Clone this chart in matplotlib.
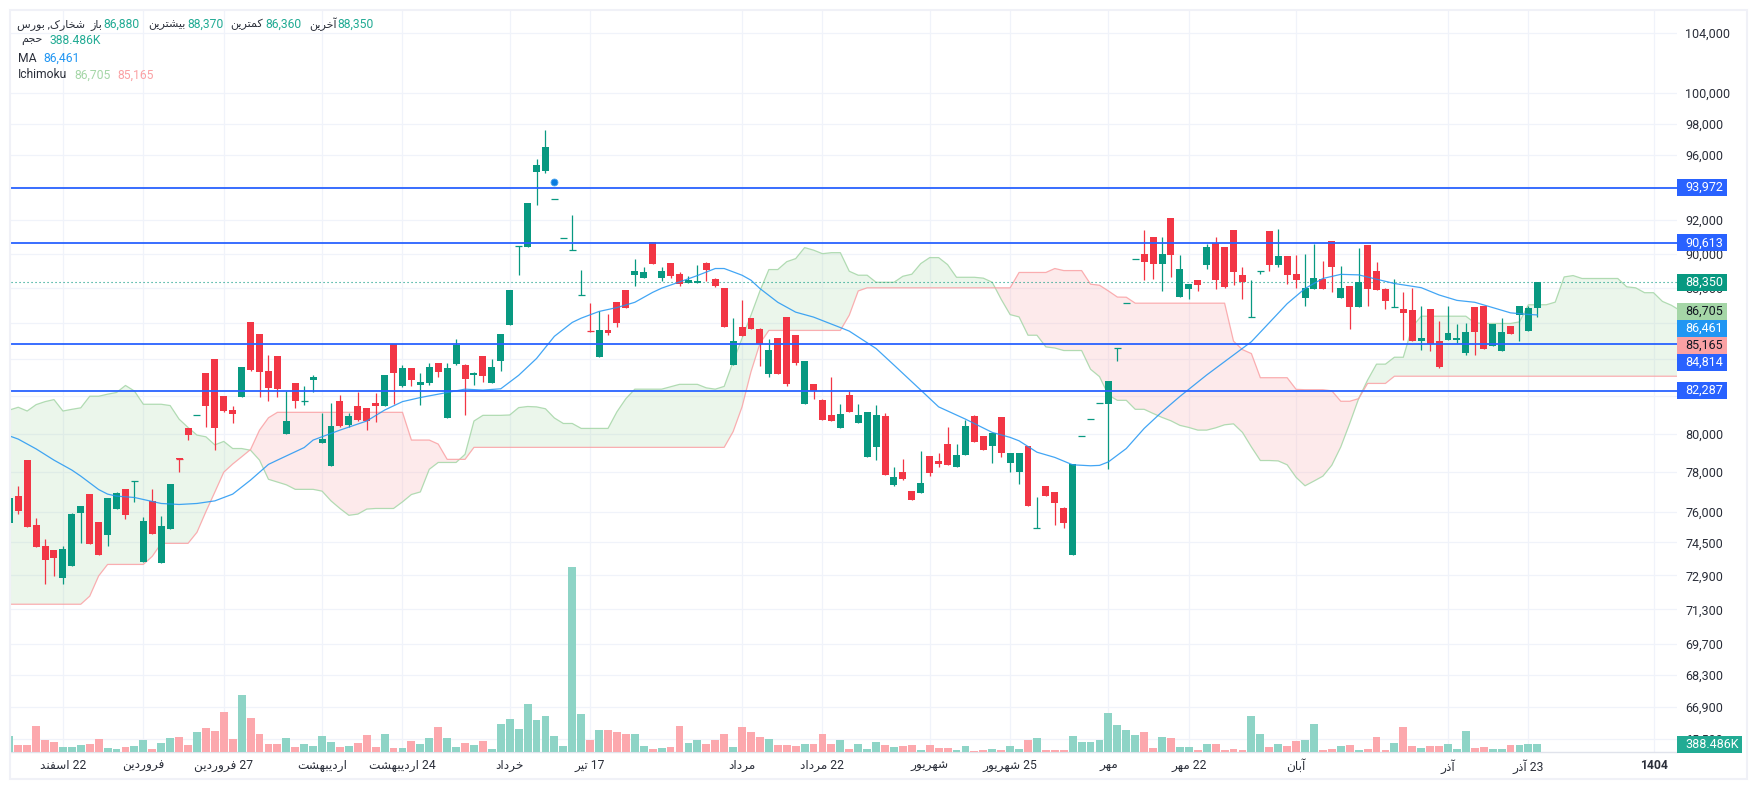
"""
Daily candle chart for a Tehran exchange ticker with Ichimoku cloud, MA and volume.
Run:  python plot.py   (writes out.png, 1757x790)
"""
import numpy as np
import matplotlib
matplotlib.use('Agg')
import matplotlib.pyplot as plt
from matplotlib.patches import Rectangle
from matplotlib.ticker import NullLocator

# ── data ─────────────────────────────────────────────────────────────────────
opens = [
    75450, 76790, 78620, 75350, 74310, 74120, 72780, 73350, 75940, 76880, 75500, 74860, 76140, 77140, 77530,
    73540, 76530, 73500, 75150, 78710, 80290, 80960, 83240, 83990, 81980, 81240, 81920, 86060, 85380, 83350,
    84160, 79970, 82690, 81730, 82850, 79500, 78310, 81710, 80450, 81450, 81340, 81600, 81450, 84820, 82530,
    83510, 82580, 82690, 83780, 80820, 83720, 83670, 83120, 84160, 82690, 83890, 85880, 90430, 90370, 94920,
    94990, 93300, 90950, 90240, 87620, 85570, 84100, 85600, 87180, 87870, 88740, 88570, 90670, 88570, 89440,
    88800, 88280, 88280, 89440, 88510, 87990, 83670, 85770, 86280, 85660, 83180, 85150, 86340, 85320, 81550,
    82630, 81760, 80980, 80290, 82040, 80550, 78770, 79290, 80920, 77340, 78010, 77040, 76940, 78820, 78570,
    79450, 78260, 78870, 80920, 79870, 79340, 80870, 78470, 78010, 79340, 75200, 77290, 76990, 76190, 73880,
    79850, 80750, 81640, 81550, 84630, 87160, 89710, 89960, 90970, 89380, 92110, 87470, 87930, 88450, 89320,
    90610, 90370, 91390, 88740, 86370, 88970, 91330, 89320, 89840, 88800, 87410, 87930, 88510, 90730, 87410,
    88100, 86900, 90490, 88970, 87930, 86940, 86790, 86730, 84990, 86790, 84990, 85040, 85040, 84320, 86900,
    86950, 84710, 84430, 85830, 86450, 85540, 86880]
highs = [
    76680, 77290, 78620, 75700, 74660, 74120, 74310, 75940, 76290, 76880, 75500, 76680, 76990, 77140, 77530,
    75750, 77140, 75800, 77390, 78710, 80290, 80960, 83240, 83990, 81980, 81450, 83560, 86060, 85380, 84210,
    84160, 82250, 82690, 82530, 83120, 81080, 81600, 82040, 81080, 82200, 81340, 82150, 83120, 84820, 83670,
    83510, 83240, 83780, 83780, 83780, 85100, 83720, 83290, 84160, 83990, 85380, 87870, 90430, 93010, 95730,
    97570, 93300, 90950, 92290, 89030, 87120, 86670, 86500, 87180, 87870, 89670, 89200, 90670, 89200, 89440,
    88910, 88680, 89320, 89490, 88570, 87990, 86280, 87290, 86280, 85710, 85100, 85150, 86340, 85320, 83890,
    82630, 81820, 83010, 81550, 82260, 81550, 81130, 81500, 81080, 78260, 78670, 77040, 79080, 78820, 78970,
    80340, 79450, 80710, 80980, 79870, 80020, 80870, 78970, 78970, 79340, 76730, 77290, 76990, 76240, 78420,
    79850, 80750, 81640, 82800, 84630, 87160, 89710, 91390, 90970, 90970, 92110, 89900, 88220, 88450, 90550,
    90970, 90370, 91390, 89200, 88450, 88970, 91330, 91450, 89840, 89900, 89960, 90550, 89550, 90730, 89260,
    88100, 90310, 90490, 89490, 87990, 88510, 87750, 87990, 86950, 86790, 86110, 86950, 85940, 86000, 86900,
    86950, 85940, 86280, 85830, 86950, 86950, 88370]
lows = [
    75450, 75890, 75250, 74260, 72490, 72870, 72490, 73350, 74460, 74410, 73880, 74310, 76140, 75650, 76480,
    73540, 74910, 73500, 75150, 78010, 79660, 80960, 80340, 79130, 81130, 80550, 81920, 83350, 81920, 81710,
    81920, 79970, 81340, 81500, 82200, 79500, 78310, 80340, 80340, 80660, 80180, 80600, 81450, 81550, 82470,
    82530, 81500, 82580, 83010, 80820, 83670, 80980, 82580, 82740, 82690, 83350, 85880, 88740, 90370, 92890,
    94860, 93300, 90950, 90240, 87620, 85500, 84100, 85320, 85770, 86840, 88100, 88570, 89380, 88390, 88570,
    88100, 88280, 88280, 88390, 88040, 85770, 83670, 85260, 85660, 83620, 83010, 83180, 82530, 83670, 81550,
    81820, 80710, 80660, 80290, 81130, 80550, 78770, 78620, 77850, 77290, 77600, 76580, 76940, 77800, 78260,
    78360, 78260, 78870, 79550, 79130, 78470, 78770, 78010, 77400, 76290, 75200, 76780, 75350, 75200, 73880,
    79850, 80750, 81640, 78160, 83890, 87160, 89710, 88450, 88510, 87810, 88620, 87470, 87350, 87810, 89090,
    87930, 87990, 88160, 87350, 86370, 88800, 88970, 89200, 88220, 87990, 86950, 87930, 87930, 87750, 87410,
    85660, 86900, 86950, 87870, 86790, 86940, 85040, 84990, 84480, 84430, 83510, 85040, 84870, 84210, 84210,
    84540, 84710, 84430, 85380, 84990, 85540, 86360]
closes = [
    76680, 76040, 75250, 74260, 73640, 73730, 74170, 75890, 76290, 74410, 73880, 76680, 76940, 75850, 77530,
    75550, 74910, 75300, 77390, 78690, 79920, 80960, 81450, 80290, 81190, 81030, 83560, 83400, 83290, 82420,
    82360, 80660, 81710, 81730, 83010, 79710, 80390, 80390, 80920, 80710, 80660, 81450, 83120, 83240, 83510,
    82850, 82740, 83560, 83290, 83510, 84760, 82900, 83240, 83070, 83560, 85380, 87870, 90430, 93010, 95360,
    96490, 93300, 90950, 90240, 87620, 85550, 85600, 85430, 86000, 86840, 88970, 88910, 89380, 88970, 88680,
    88220, 88450, 88390, 89030, 88100, 85770, 84980, 85260, 85660, 84820, 84480, 83180, 82630, 83780, 83890,
    82260, 80710, 80660, 81030, 81130, 80980, 81130, 80980, 77850, 77750, 77650, 76580, 77440, 77950, 78420,
    78360, 78870, 80390, 79550, 79130, 80020, 78970, 78970, 78970, 76290, 75200, 76780, 76440, 75450, 78420,
    79850, 80750, 81640, 82800, 84630, 87160, 89710, 89490, 89380, 89960, 89900, 89090, 88220, 88160, 90370,
    88450, 88040, 88910, 88330, 86370, 88970, 89320, 89840, 88740, 88450, 87990, 88570, 87930, 89200, 87990,
    86900, 88330, 87930, 87870, 87230, 86940, 86560, 84990, 85150, 84820, 83560, 85430, 85150, 85490, 85490,
    84540, 85940, 85490, 85380, 86950, 86840, 88350]
volumes_k = [
    761, 342, 342, 1228, 575, 482, 249, 249, 342, 388, 622, 202, 155, 249, 295,
    575, 155, 435, 668, 715, 342, 948, 1134, 995, 1880, 622, 2673, 1600, 855, 388,
    388, 668, 249, 388, 295, 761, 482, 249, 295, 435, 808, 249, 855, 202, 202,
    528, 388, 668, 1181, 668, 249, 435, 342, 528, 155, 1321, 1554, 1088, 2253, 1507,
    1694, 761, 295, 8625, 1787, 575, 1041, 1041, 948, 855, 855, 295, 155, 202, 249,
    1228, 435, 575, 388, 575, 855, 249, 1181, 948, 715, 622, 342, 342, 295, 388,
    388, 855, 388, 575, 155, 388, 155, 482, 342, 249, 295, 342, 109, 342, 202,
    202, 109, 295, 62, 109, 155, 109, 295, 155, 575, 668, 109, 109, 109, 761,
    482, 482, 575, 1834, 1274, 1041, 808, 948, 202, 715, 668, 249, 249, 109, 388,
    388, 109, 155, 109, 1694, 855, 249, 388, 295, 528, 575, 1321, 109, 155, 295,
    342, 109, 155, 715, 109, 435, 1181, 295, 202, 295, 295, 388, 155, 995, 202,
    249, 155, 155, 342, 342, 388, 388.486]

# moving average, read at these candle numbers
ma_idx = [0, 1, 3, 5, 7, 8, 10, 11, 12, 14, 15, 17, 19, 21, 23, 25, 27, 29, 30, 33, 34, 37, 39, 40, 42, 44, 46, 49,
          51, 53, 55, 57, 59, 61, 63, 64, 66, 68, 70, 72, 73, 75, 77, 79, 80, 82, 83, 84, 86, 88, 90, 93, 94, 97,
          99, 101, 102, 104, 107, 110, 112, 113, 115, 117, 119, 121, 122, 123, 125, 127, 129, 131, 134, 139, 143,
          145, 147, 149, 151, 153, 155, 158, 160, 162, 164, 166, 168, 170, 171]
ma_vals = [79880, 79710, 79200, 78620, 78110, 77800, 77120, 76890, 76790, 76720, 76620, 76420, 76370, 76420, 76550,
           76890, 77600, 78400, 78620, 79270, 79660, 80180, 80500, 80660, 81240, 81690, 81910, 82180, 82360, 82310,
           82380, 83110, 84030, 85260, 86040, 86280, 86660, 86880, 87180, 87750, 87990, 88350, 88720, 89130, 89130,
           88740, 88450, 87970, 87180, 86620, 86340, 85750, 85550, 84580, 83670, 82760, 82310, 81410, 80760, 80060,
           79800, 79620, 79030, 78760, 78380, 78330, 78350, 78530, 79220, 80270, 81150, 81970, 83130, 84960, 87100,
           87970, 88550, 88790, 88760, 88510, 88260, 88020, 87600, 87290, 87180, 86880, 86580, 86490, 86461]

# Ichimoku leading spans, shifted 16 bars past the last candle
span_a = [
    81240, 81390, 81190, 81530, 81690, 81800, 81190, 81280, 81360, 81980, 81980, 82090, 82180, 82560, 82260,
    81550, 81550, 81550, 81480, 80760, 80320, 79920, 79830, 79410, 79590, 79220, 79220, 79130, 78620, 77640,
    77500, 77360, 77130, 77130, 77130, 77040, 76550, 76170, 75830, 75890, 76140, 76170, 76170, 76170, 76500,
    76870, 77000, 78150, 78500, 78500, 78500, 78920, 80660, 80960, 80960, 80960, 80980, 81370, 81430, 81410,
    81310, 80820, 80530, 80530, 80270, 80270, 80270, 80270, 81150, 81850, 82360, 82360, 82360, 82360, 82490,
    82620, 82620, 82620, 82430, 82360, 82510, 83850, 85150, 86450, 87830, 89070, 89070, 89530, 89710, 90360,
    90210, 90000, 90060, 90060, 88970, 88740, 88740, 88330, 88330, 88330, 88680, 88800, 89420, 89770, 89770,
    89360, 88620, 88620, 88620, 88570, 88330, 87350, 86480, 86350, 85320, 85320, 84670, 84610, 84470, 84470,
    84470, 83440, 83040, 82040, 81760, 81760, 81280, 81280, 81060, 80850, 80670, 80430, 80320, 80180, 80180,
    80300, 80460, 80510, 80060, 79300, 78600, 78600, 78580, 78380, 77740, 77310, 77550, 77800, 78360, 79300,
    80530, 81850, 82850, 83720, 83720, 84100, 84100, 85790, 86390, 86390, 86390, 86390, 86390, 86390, 86010,
    85980, 85980, 85980, 85980, 86070, 87040, 87040, 87040, 87190, 88640, 88720, 88550, 88550, 88550, 88550,
    88550, 88070, 88010, 87730, 87730, 87230, 87010, 86705]
span_b = [
    71540, 71540, 71540, 71540, 71540, 71540, 71540, 71540, 71540, 71920, 72880, 73430, 73430, 73430, 73430,
    73430, 73820, 74450, 74450, 74450, 74450, 74990, 76010, 76990, 78000, 78420, 78790, 79170, 80180, 80830,
    81120, 81120, 81120, 81120, 81120, 81120, 81120, 81120, 81120, 81120, 81120, 81120, 81120, 81120, 81120,
    79660, 79660, 79660, 79450, 78660, 78660, 78660, 79280, 79280, 79280, 79280, 79280, 79280, 79280, 79280,
    79280, 79280, 79280, 79280, 79280, 79280, 79280, 79280, 79280, 79280, 79280, 79280, 79280, 79280, 79280,
    79280, 79280, 79280, 79280, 79280, 79280, 80100, 81410, 83300, 84860, 85590, 85590, 85590, 85590, 85590,
    85590, 85590, 85590, 85590, 86450, 87830, 88010, 88010, 88010, 88010, 88010, 88010, 88010, 88010, 88010,
    88010, 88010, 88010, 88010, 88010, 88010, 88010, 88010, 88900, 88900, 88900, 88900, 89130, 89010, 89010,
    89010, 88220, 88160, 87830, 87480, 87470, 87130, 87130, 87130, 87130, 87130, 87130, 87130, 87130, 87130,
    87130, 87130, 84990, 84520, 84300, 82980, 82980, 82980, 82980, 82350, 82330, 82330, 82330, 82270, 81710,
    81710, 81850, 82670, 82670, 82670, 83060, 83060, 83060, 83060, 83060, 83060, 83060, 83060, 83060, 83060,
    83060, 83060, 83060, 83060, 83060, 83060, 83060, 83060, 83060, 83060, 83060, 83060, 83060, 83060, 83060,
    83060, 83060, 83060, 83060, 83060, 83060, 83060, 83060]

hlines_blue = [93972, 90613, 84814, 82287]
last_price = 88350
marker_idx, marker_price = 61, 94300

y_ticks = [104000, 100000, 98000, 96000, 94000, 92000, 90000, 88000, 86000, 84000, 82000, 80000, 78000, 76000,
           74500, 72900, 71300, 69700, 68300, 66900, 65500]
# these sit behind the price pills, only their grid lines show
y_ticks_unlabelled = [94000, 86000, 84000, 82000]
x_tick_idx = [6, 15, 24, 35, 44, 56, 65, 82, 91, 103, 112, 123, 132, 144, 161, 170, 184]
x_tick_labels = ['22 اسفند', 'فروردین', '27 فروردین', 'اردیبهشت', '24 اردیبهشت', 'خرداد', '17 تیر', 'مرداد',
                 '22 مرداد', 'شهریور', '25 شهریور', 'مهر', '22 مهر', 'آبان', 'آذر', '23 آذر', '1404']

# ── colours ──────────────────────────────────────────────────────────────────
UP, DOWN = '#089981', '#f23645'
BLUE = '#2962ff'
MA_COL = '#2196f3'
SPAN_A_COL, SPAN_B_COL = '#a5d6a7', '#faa1a4'
GRID = '#f0f3fa'
TEXT = '#2a2e39'
FONT = ['Roboto', 'DejaVu Sans']
W, H = 1757, 790


# ── helpers ──────────────────────────────────────────────────────────────────
# matplotlib does no Arabic shaping or bidi, so pick presentation forms by hand
FORMS = {
    'ا': (0xFE8D, 0xFE8E), 'آ': (0xFE81, 0xFE82), 'د': (0xFEA9, 0xFEAA), 'ذ': (0xFEAB, 0xFEAC),
    'ر': (0xFEAD, 0xFEAE), 'ز': (0xFEAF, 0xFEB0), 'و': (0xFEED, 0xFEEE),
    'ب': (0xFE8F, 0xFE90, 0xFE91, 0xFE92), 'ت': (0xFE95, 0xFE96, 0xFE97, 0xFE98),
    'ج': (0xFE9D, 0xFE9E, 0xFE9F, 0xFEA0), 'ح': (0xFEA1, 0xFEA2, 0xFEA3, 0xFEA4),
    'خ': (0xFEA5, 0xFEA6, 0xFEA7, 0xFEA8), 'س': (0xFEB1, 0xFEB2, 0xFEB3, 0xFEB4),
    'ش': (0xFEB5, 0xFEB6, 0xFEB7, 0xFEB8), 'ف': (0xFED1, 0xFED2, 0xFED3, 0xFED4),
    'ک': (0xFB8E, 0xFB8F, 0xFB90, 0xFB91), 'م': (0xFEE1, 0xFEE2, 0xFEE3, 0xFEE4),
    'ن': (0xFEE5, 0xFEE6, 0xFEE7, 0xFEE8), 'ه': (0xFEE9, 0xFEEA, 0xFEEB, 0xFEEC),
    'ی': (0xFBFC, 0xFBFD, 0xFBFE, 0xFBFF),
}


def shape_word(word):
    out = []
    for k, ch in enumerate(word):
        forms = FORMS.get(ch)
        if forms is None:
            out.append(ch)
            continue
        before = k > 0 and len(FORMS.get(word[k - 1], ())) == 4
        after = k + 1 < len(word) and word[k + 1] in FORMS and len(forms) == 4
        if before and after:
            code = forms[3]
        elif before:
            code = forms[1]
        elif after:
            code = forms[2]
        else:
            code = forms[0]
        out.append(chr(code))
    return ''.join(reversed(out))


def fa(text):
    words = text.split(' ')
    return ' '.join(shape_word(w) if any(c in FORMS for c in w) else w for w in reversed(words))


def fig_text(x, y, s, color=TEXT, ha='left', size=8.7, **kw):
    # x, y in image pixels
    fig.text(x / W, 1 - y / H, s, color=color, ha=ha, va='center', fontsize=size, family=FONT, **kw)


def price_box(y, s, bg, fg='white', x0=1677, x1=1727, h=17):
    fig.add_artist(Rectangle((x0 / W, 1 - (y + h / 2) / H), (x1 - x0) / W, h / H, transform=fig.transFigure,
                             facecolor=bg, edgecolor='none', zorder=5))
    fig.text((x0 + 8) / W, 1 - y / H, s, color=fg, ha='left', va='center', fontsize=9, family=FONT, zorder=6)


# ── figure and axes ──────────────────────────────────────────────────────────
fig = plt.figure(figsize=(W / 100, H / 100), dpi=100, facecolor='white')
ax_left, ax_right, ax_top, ax_bottom = 10.5, 1677, 10.5, 752.3
ax = fig.add_axes([ax_left / W, 1 - ax_bottom / H, (ax_right - ax_left) / W, (ax_bottom - ax_top) / H])

BAR_STEP = 8.936
ax.set_xlim((ax_left - 9.3) / BAR_STEP, (ax_right - 9.3) / BAR_STEP)
ax.set_yscale('log')
ax.set_ylim(64930, 105536)
ax.yaxis.set_minor_locator(NullLocator())
ax.set_yticks(y_ticks, ['' if t in y_ticks_unlabelled else f'{t:,}' for t in y_ticks],
              fontsize=9, family=FONT, color=TEXT)
ax.set_xticks(x_tick_idx, [fa(s) for s in x_tick_labels], fontsize=8.7, family=FONT, color=TEXT)
ax.xaxis.get_ticklabels()[-1].set_fontweight('bold')
ax.grid(True, color=GRID, linewidth=0.9, zorder=0)
ax.set_axisbelow(True)
for name in ('top', 'left', 'right'):
    ax.spines[name].set_visible(False)
ax.spines['bottom'].set_color('#e0e3eb')
ax.spines['bottom'].set_linewidth(1)

idx = np.arange(len(closes))
o, h, l, c = map(np.array, (opens, highs, lows, closes))
colors = [UP if cc >= oo else DOWN for oo, cc in zip(opens, closes)]

# ── ichimoku cloud ───────────────────────────────────────────────────────────
a, b = np.array(span_a), np.array(span_b)
span_x = np.arange(len(a))
ax.fill_between(span_x, a, b, where=a >= b, interpolate=True, color=SPAN_A_COL, alpha=0.22, lw=0, zorder=1)
ax.fill_between(span_x, a, b, where=a < b, interpolate=True, color=SPAN_B_COL, alpha=0.22, lw=0, zorder=1)
ax.plot(span_x, a, color=SPAN_A_COL, lw=0.9, alpha=0.85, zorder=1.5)
ax.plot(span_x, b, color=SPAN_B_COL, lw=0.9, alpha=0.85, zorder=1.5)

# ── candles ──────────────────────────────────────────────────────────────────
ax.vlines(idx, l, h, colors=colors, lw=0.9, zorder=3)
body_lo, body_hi = np.minimum(o, c), np.maximum(o, c)
ax.bar(idx, body_hi - body_lo, bottom=body_lo, width=0.78, color=colors, lw=0, zorder=3)
doji = np.abs(c - o) < 60
ax.hlines(c[doji], idx[doji] - 0.39, idx[doji] + 0.39, colors=np.array(colors)[doji], lw=0.9, zorder=3)

# ── ma, horizontal levels, last price ────────────────────────────────────────
ax.plot(ma_idx, ma_vals, color=MA_COL, lw=0.9, alpha=0.85, zorder=4)
for lvl in hlines_blue:
    ax.axhline(lvl, color=BLUE, lw=1.3, zorder=4.5)
ax.axhline(last_price, color=UP, lw=0.8, dashes=(1, 2.6), zorder=2.5)
ax.plot([marker_idx], [marker_price], 'o', ms=5, color='#0a7ce0', mec='#4aa3ef', mew=0.6, zorder=5)

# ── volume pane, same axes box, linear scale ─────────────────────────────────
ax_vol = ax.twinx()
ax_vol.set_ylim(0, (ax_bottom - ax_top) * 46.6)
ax_vol.bar(idx, volumes_k, width=0.88, lw=0, zorder=2,
           color=['#8ed4c6' if cc == UP else '#fca8ad' for cc in colors])
ax_vol.set_yticks([])
ax_vol.patch.set_visible(False)
for s in ax_vol.spines.values():
    s.set_visible(False)
ax_vol.set_zorder(ax.get_zorder() + 1)

# twinx moves the price ticks to the left, put them back
ax.yaxis.tick_right()
ax.tick_params(axis='both', length=0)
ax.tick_params(axis='y', pad=5.8)
ax.tick_params(axis='x', pad=5)

# ── legend text, top left ────────────────────────────────────────────────────
VAL = '#22ab94'
fig_text(85, 24.5, fa('شخارک, بورس'), ha='right', size=8)
fig_text(102.3, 24.5, fa('باز'), ha='right', size=8)
fig_text(103.3, 24, '86,880', color=VAL)
fig_text(186, 24.5, fa('بیشترین'), ha='right', size=8)
fig_text(187.3, 24, '88,370', color=VAL)
fig_text(263.3, 24.5, fa('کمترین'), ha='right', size=8)
fig_text(265, 24, '86,360', color=VAL)
fig_text(336.7, 24.5, fa('آخرین'), ha='right', size=8)
fig_text(337.3, 24, '88,350', color=VAL)
fig_text(42.7, 41.5, fa('حجم'), ha='right', size=8)
fig_text(50, 41, '388.486K', color=VAL)
fig_text(18, 58, 'MA')
fig_text(43.7, 58, '86,461', color=MA_COL)
fig_text(18, 75, 'Ichimoku')
fig_text(74.7, 75, '86,705', color=SPAN_A_COL)
fig_text(117.7, 75, '85,165', color=SPAN_B_COL)

# ── price pills on the right ─────────────────────────────────────────────────
price_box(187.7, '93,972', BLUE)
price_box(243, '90,613', BLUE)
price_box(282.3, '88,350', UP)
price_box(311.7, '86,705', SPAN_A_COL, fg='#131722')
price_box(328.7, '86,461', MA_COL)
price_box(345.7, '85,165', SPAN_B_COL, fg='#131722')
price_box(362.7, '84,814', BLUE)
price_box(390, '82,287', BLUE)
price_box(744, '388.486K', VAL, x1=1742)

# outer frame
fig.add_artist(Rectangle((9.8 / W, 1 - 779 / H), (1747 - 9.8) / W, (779 - 10) / H, transform=fig.transFigure,
                         facecolor='none', edgecolor='#f0f1f7', linewidth=1.5, zorder=7))

fig.savefig('out.png', dpi=100)
